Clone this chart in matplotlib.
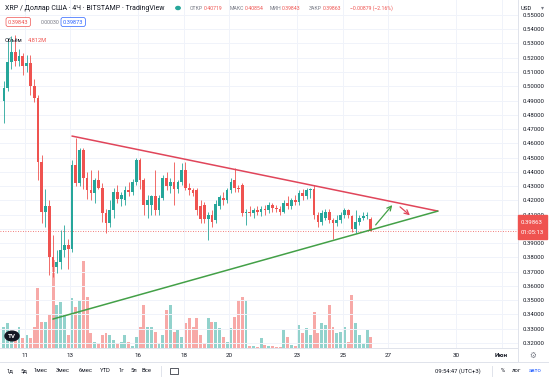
import numpy as np
import matplotlib.pyplot as plt
from matplotlib.patches import Rectangle, Circle

# XRP/USD 4h candles, Bitstamp
t0 = 10.07          # day-of-month of first candle centre
step = 1. / 6.      # 4 hours

opens = [0.490, 0.499, 0.517, 0.524, 0.518, 0.521, 0.514, 0.516, 0.500, 0.492,
         0.447, 0.412, 0.416, 0.380, 0.373, 0.377, 0.385, 0.389, 0.386, 0.445,
         0.432, 0.455, 0.436, 0.427, 0.425, 0.434, 0.429, 0.411, 0.404, 0.413,
         0.426, 0.421, 0.420, 0.427, 0.426, 0.433, 0.448, 0.434, 0.417, 0.417,
         0.423, 0.413, 0.422, 0.436, 0.430, 0.433, 0.428, 0.433, 0.441, 0.429,
         0.427, 0.427, 0.416, 0.417, 0.407, 0.410, 0.406, 0.416, 0.422, 0.420,
         0.427, 0.434, 0.429, 0.431, 0.411, 0.412, 0.411, 0.413, 0.412, 0.414,
         0.413, 0.417, 0.415, 0.414, 0.412, 0.418, 0.416, 0.420, 0.419, 0.425,
         0.423, 0.427, 0.428, 0.410, 0.405, 0.408, 0.412, 0.406, 0.404, 0.406,
         0.410, 0.413, 0.409, 0.400, 0.405, 0.408, 0.409, 0.40719]
highs = [0.504, 0.534, 0.535, 0.536, 0.526, 0.523, 0.522, 0.522, 0.505, 0.494,
         0.452, 0.428, 0.420, 0.396, 0.385, 0.399, 0.403, 0.393, 0.448, 0.464,
         0.457, 0.457, 0.440, 0.441, 0.436, 0.441, 0.432, 0.414, 0.420, 0.429,
         0.431, 0.426, 0.430, 0.433, 0.435, 0.450, 0.450, 0.436, 0.424, 0.424,
         0.441, 0.424, 0.438, 0.440, 0.436, 0.447, 0.434, 0.446, 0.447, 0.432,
         0.429, 0.429, 0.420, 0.419, 0.412, 0.413, 0.420, 0.424, 0.426, 0.429,
         0.436, 0.443, 0.431, 0.432, 0.414, 0.416, 0.415, 0.416, 0.416, 0.417,
         0.419, 0.418, 0.417, 0.416, 0.420, 0.423, 0.422, 0.424, 0.427, 0.428,
         0.429, 0.429, 0.431, 0.412, 0.413, 0.414, 0.414, 0.408, 0.410, 0.412,
         0.415, 0.414, 0.410, 0.413, 0.410, 0.412, 0.412, 0.40854]
lows = [0.474, 0.497, 0.512, 0.514, 0.514, 0.508, 0.510, 0.494, 0.489, 0.434,
        0.404, 0.401, 0.368, 0.366, 0.369, 0.372, 0.380, 0.372, 0.384, 0.430,
        0.430, 0.428, 0.421, 0.420, 0.418, 0.428, 0.405, 0.397, 0.401, 0.408,
        0.418, 0.416, 0.417, 0.423, 0.424, 0.431, 0.428, 0.410, 0.408, 0.410,
        0.410, 0.410, 0.420, 0.427, 0.425, 0.417, 0.425, 0.431, 0.427, 0.424,
        0.423, 0.410, 0.404, 0.404, 0.392, 0.401, 0.404, 0.414, 0.417, 0.418,
        0.425, 0.426, 0.426, 0.409, 0.403, 0.409, 0.408, 0.410, 0.409, 0.410,
        0.411, 0.412, 0.412, 0.410, 0.411, 0.414, 0.414, 0.417, 0.417, 0.420,
        0.421, 0.422, 0.407, 0.401, 0.403, 0.406, 0.404, 0.393, 0.402, 0.404,
        0.408, 0.408, 0.398, 0.397, 0.403, 0.406, 0.407, 0.39843]
closes = [0.499, 0.517, 0.524, 0.518, 0.521, 0.514, 0.516, 0.500, 0.492, 0.447,
          0.412, 0.416, 0.380, 0.373, 0.377, 0.385, 0.389, 0.386, 0.445, 0.432,
          0.455, 0.436, 0.427, 0.425, 0.434, 0.429, 0.411, 0.404, 0.413, 0.426,
          0.421, 0.424, 0.427, 0.426, 0.433, 0.448, 0.434, 0.417, 0.420, 0.423,
          0.413, 0.422, 0.436, 0.430, 0.433, 0.428, 0.433, 0.441, 0.429, 0.427,
          0.425, 0.413, 0.407, 0.407, 0.410, 0.405, 0.4175, 0.4225, 0.420, 0.427,
          0.433, 0.429, 0.428, 0.411, 0.412, 0.411, 0.413, 0.412, 0.414, 0.413,
          0.417, 0.415, 0.414, 0.412, 0.418, 0.416, 0.420, 0.419, 0.425, 0.423,
          0.427, 0.428, 0.410, 0.405, 0.411, 0.412, 0.406, 0.404, 0.406, 0.410,
          0.413, 0.410, 0.400, 0.405, 0.408, 0.409, 0.410, 0.39863]
volumes = [9.2, 10.9, 7.0, 6.6, 9.2, 4.4, 5.7, 4.4, 9.2, 26.2,
           11.4, 11.4, 14.4, 38.5, 18.8, 20.1, 14.4, 5.7, 21.9, 17.9,
           21.0, 38.0, 22.3, 6.6, 2.6, 2.2, 5.7, 6.6, 5.7, 3.5,
           2.2, 2.6, 5.7, 2.6, 1.0, 4.8, 9.2, 18.8, 9.2, 9.2,
           7.0, 2.2, 5.7, 16.6, 18.8, 7.0, 7.9, 5.0, 10.9, 13.1,
           9.2, 13.1, 5.7, 2.2, 13.1, 11.4, 11.4, 8.7, 4.8, 2.6,
           8.7, 13.5, 21.0, 22.3, 21.0, 0.7, 0.9, 0.5, 4.4, 1.3,
           0.9, 0.9, 0.6, 0.5, 7.9, 4.8, 1.3, 0.9, 10.0, 6.6,
           8.7, 5.7, 15.7, 6.6, 10.9, 10.0, 18.8, 9.2, 6.6, 7.0,
           9.2, 2.6, 23.2, 10.9, 5.7, 2.2, 7.9, 4.812]

# triangle + arrows drawn by the author (day, price)
upper_line = ([13.07, 29.19], [0.4651, 0.4125])
lower_line = ([12.23, 29.19], [0.3368, 0.4125])
up_arrow = ((26.37, 0.4013), (27.26, 0.4182))
down_arrow = ((27.43, 0.4167), (28.05, 0.4083))

day_ticks = [11, 13, 16, 18, 20, 23, 25, 27, 30, 32]
day_labels = ['11', '13', '16', '18', '20', '23', '25', '27', '30', 'Июн']
price_ticks = np.arange(0.32, 0.5501, 0.01)
last_price = 0.39863
ohlc_labels = ['ОТКР', 'МАКС', 'МИН', 'ЗАКР']
ohlc_values = ['0.40719', '0.40854', '0.39843', '0.39863']
change_text = '−0.00879 (−2.16%)'

UP = '#26a69a'
DOWN = '#ef5350'
GRID = '#f0f3fa'
TXT = '#131722'
GREY = '#787b86'

plt.rcParams['font.family'] = ['Roboto', 'DejaVu Sans']

W, H = 549, 380
fig = plt.figure(figsize=(W / 100, H / 100), dpi=100)
fig.patch.set_facecolor('white')

def fx(x):
    return x / W

def fy(y):
    return 1 - y / H

ax = fig.add_axes([0, 32 / H, 518 / W, 348 / H])
ax.set_xlim(9.899, 32.72)
ax.set_ylim(0.3165, 0.5605)

# volume overlay
vax = ax.twinx()
o = np.array(opens)
c = np.array(closes)
t = t0 + np.arange(len(opens)) * step
up = c >= o
vcol = np.where(up, '#92d2cc', '#f7a9a7')
vax.bar(t, volumes, width=step * 0.78, color=vcol, zorder=1)
vax.set_ylim(0, 152)
vax.set_yticks([])
for s in vax.spines.values():
    s.set_visible(False)
ax.set_zorder(vax.get_zorder() + 1)
ax.patch.set_visible(False)

# candles
ccol = np.where(up, UP, DOWN)
ax.vlines(t, lows, highs, colors=ccol, lw=0.6, zorder=3)
body = np.maximum(np.abs(c - o), 0.0006)
ax.bar(t, body, bottom=np.minimum(o, c), width=step * 0.72, color=ccol, zorder=4)

# pattern lines
ax.plot(*upper_line, color='#e0455a', lw=1.1, zorder=5, solid_capstyle='round')
ax.plot(*lower_line, color='#43a047', lw=1.1, zorder=5, solid_capstyle='round')
ax.annotate('', xy=up_arrow[1], xytext=up_arrow[0],
            arrowprops=dict(arrowstyle='->', color='#43a047', lw=0.9,
                            mutation_scale=8), zorder=6)
ax.annotate('', xy=down_arrow[1], xytext=down_arrow[0],
            arrowprops=dict(arrowstyle='->', color='#e0455a', lw=0.9,
                            mutation_scale=8), zorder=6)

ax.axhline(last_price, color=DOWN, lw=0.6, ls=(0, (1, 2)), zorder=2)

# axes style
ax.set_xticks(day_ticks)
ax.set_xticklabels(day_labels)
ax.get_xticklabels()[-1].set_fontweight('bold')
ax.set_yticks(price_ticks)
ax.set_yticklabels(['%.5f' % p for p in price_ticks])
ax.yaxis.tick_right()
ax.grid(color=GRID, lw=0.7, zorder=0)
ax.tick_params(axis='x', length=0, pad=3.5, labelsize=4.5, colors=TXT)
ax.tick_params(axis='y', length=0, pad=3, labelsize=4.3, colors=TXT)
for k in ['top', 'left']:
    ax.spines[k].set_visible(False)
for k in ['right', 'bottom']:
    ax.spines[k].set_color('#e0e3eb')
    ax.spines[k].set_linewidth(0.7)

# price label on axis
fig.patches.append(Rectangle((fx(518), fy(239)), fx(29), 24 / H,
                             transform=fig.transFigure, color=DOWN, zorder=10))
fig.text(fx(532), fy(222), '%.5f' % last_price, color='white', fontsize=4.3,
         ha='center', va='center', zorder=11)
fig.text(fx(532), fy(233), '01:05:13', color='white', fontsize=4.3,
         ha='center', va='center', zorder=11)
fig.text(fx(521), fy(8), 'USD', color=TXT, fontsize=4.3, va='center')
fig.text(fx(541), fy(8), '▾', color=GREY, fontsize=4.3, va='center')

# header
fig.text(fx(5), fy(8), 'XRP / Доллар США · 4Ч · BITSTAMP · TradingView',
         color=TXT, fontsize=5.0, va='center')
fig.patches.append(Circle((fx(178), fy(8)), 2.2 / W, transform=fig.transFigure,
                          color=UP, zorder=10))

renderer = fig.canvas.get_renderer()
group_x = [190, 230, 270, 309]
for gx, lab, val in zip(group_x, ohlc_labels, ohlc_values):
    tl = fig.text(fx(gx), fy(8), lab, color=GREY, fontsize=3.7, va='center')
    wl = tl.get_window_extent(renderer).width
    fig.text(fx(gx + wl + 0.5), fy(8), val, color=DOWN, fontsize=3.7, va='center')
fig.text(fx(350), fy(8), change_text, color=DOWN, fontsize=3.7, va='center')

fig.text(fx(8), fy(22), '0.39843', color=DOWN, fontsize=4.1, va='center',
         bbox=dict(boxstyle='round,pad=0.35', fc='white', ec=DOWN, lw=0.5))
fig.text(fx(41), fy(22), '0.00030', color=GREY, fontsize=3.9, va='center')
fig.text(fx(63), fy(22), '0.39873', color='#2962ff', fontsize=4.1, va='center',
         bbox=dict(boxstyle='round,pad=0.35', fc='white', ec='#2962ff', lw=0.5))
fig.text(fx(5), fy(41), 'Объём', color=TXT, fontsize=4.1, va='center')
fig.text(fx(28), fy(41), '4.812M', color=DOWN, fontsize=4.1, va='center')

# TradingView badge
fig.patches.append(Circle((fx(12), fy(336)), 7 / W, transform=fig.transFigure,
                          color='#131722', zorder=10))
fig.text(fx(12), fy(336), 'TV', color='white', fontsize=4.5, fontweight='bold',
         ha='center', va='center', zorder=11)

# time axis / bottom toolbar
fig.add_artist(plt.Line2D([0, 1], [fy(362), fy(362)], color='#e0e3eb', lw=0.7))
fig.add_artist(plt.Line2D([fx(518), fx(518)], [fy(362), fy(348)],
                          color='#e0e3eb', lw=0.7))
fig.text(fx(533), fy(355), '⚙', color=GREY, fontsize=5.5,
         ha='center', va='center', family=['DejaVu Sans'])
for lab, xx in [('1д', 10), ('5д', 24), ('1мес', 41), ('3мес', 63), ('6мес', 86),
                ('YTD', 105), ('1г', 121), ('5л', 134), ('Все', 147)]:
    fig.text(fx(xx), fy(371), lab, color=TXT, fontsize=4.2,
             ha='center', va='center')
fig.add_artist(plt.Line2D([fx(161), fx(161)], [fy(366), fy(376)],
                          color='#e0e3eb', lw=0.7))
fig.patches.append(Rectangle((fx(170), fy(374)), fx(8), 6 / H,
                             transform=fig.transFigure, fill=False,
                             ec='#131722', lw=0.5))
fig.text(fx(458), fy(371), '09:54:47 (UTC+3)', color=TXT, fontsize=4.2,
         ha='center', va='center')
fig.add_artist(plt.Line2D([fx(492), fx(492)], [fy(366), fy(376)],
                          color='#e0e3eb', lw=0.7))
fig.text(fx(503), fy(371), '%', color=TXT, fontsize=4.2, ha='center', va='center')
fig.text(fx(517), fy(371), 'лог', color=TXT, fontsize=4.2, ha='center', va='center')
fig.text(fx(535), fy(371), 'авто', color='#2962ff', fontsize=4.2,
         ha='center', va='center')

fig.savefig('out.png', dpi=100)
